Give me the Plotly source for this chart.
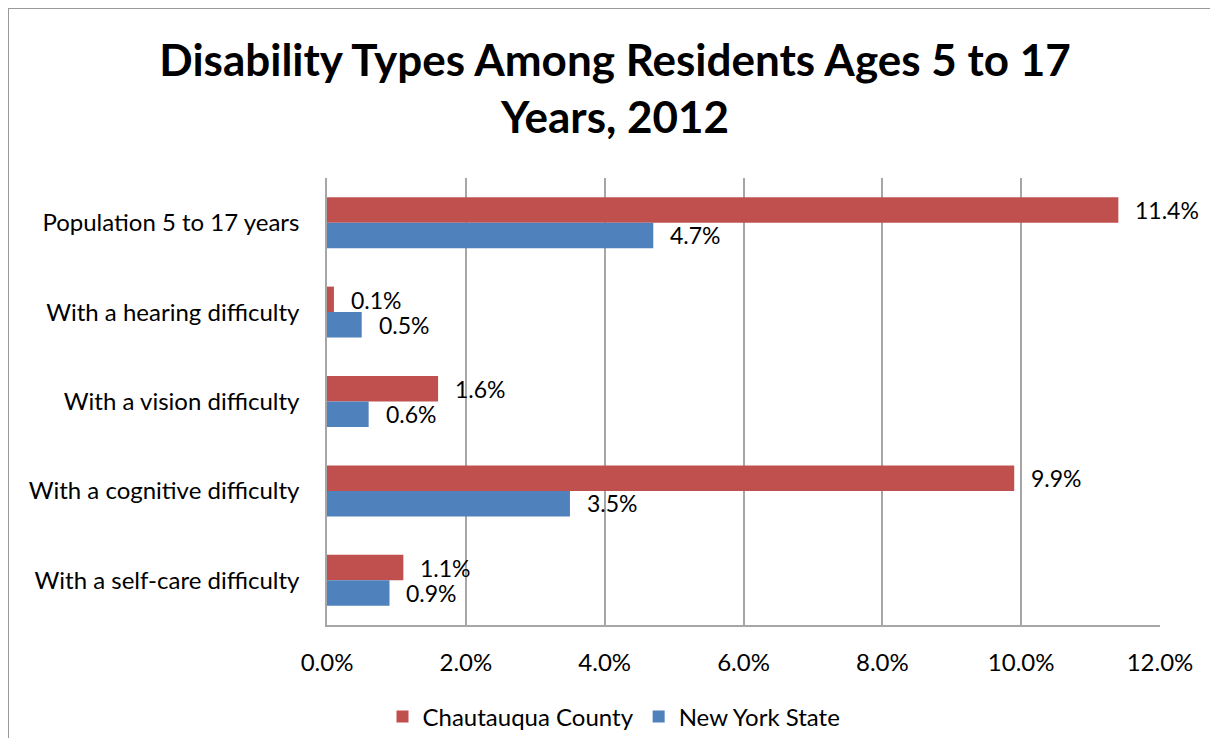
import plotly.graph_objects as go

categories = ["Population 5 to 17 years", "With a hearing difficulty", "With a vision difficulty",
              "With a cognitive difficulty", "With a self-care difficulty"]
chautauqua = [0.114, 0.001, 0.016, 0.099, 0.011]
new_york = [0.047, 0.005, 0.006, 0.035, 0.009]
series_names = ["Chautauqua County", "New York State"]
x_ticks = [0, 0.02, 0.04, 0.06, 0.08, 0.10, 0.12]

RED = "#C0504D"
BLUE = "#4F81BD"
FONT = "Lato"

# page has an 8px body margin on every side; figure sized so the page does not overflow
OFF = 8
W, H = 1218 - 2 * OFF, 754 - 2 * OFF - 8
L, T = 327 - OFF, 178 - OFF
R = W - (1160 - OFF)
B = H - (625 - OFF)

fig = go.Figure()
fig.add_trace(go.Bar(y=categories, x=chautauqua, orientation="h", name=series_names[0],
                     marker=dict(color=RED, line=dict(width=0))))
fig.add_trace(go.Bar(y=categories, x=new_york, orientation="h", name=series_names[1],
                     marker=dict(color=BLUE, line=dict(width=0))))

annotations = []
for vals, off in ((chautauqua, -0.14), (new_york, 0.14)):
    for i, v in enumerate(vals):
        annotations.append(dict(x=v, y=i + off, xref="x", yref="y", text=f"{v*100:.1f}%",
                                showarrow=False, xanchor="left", yanchor="middle", xshift=15,
                                font=dict(family=FONT, size=23, color="#000")))

pw, ph = W - L - R, H - T - B
def px_x(x): return (x - OFF - L) / pw
def px_y(y): return (H - B - (y - OFF)) / ph

border = dict(color="#999999", width=2)
fig.update_layout(
    width=W, height=H,
    margin=dict(l=L, r=R, t=T, b=B),
    paper_bgcolor="white", plot_bgcolor="white",
    barmode="group", bargap=0.43, bargroupgap=0,
    title=dict(text="<b>Disability Types Among Residents Ages 5 to 17<br>Years, 2012</b>",
               x=(615 - OFF) / W, xanchor="center", y=1 - (76 - OFF) / H, yanchor="middle",
               font=dict(family=FONT, size=44, color="#000")),
    xaxis=dict(range=[0, 0.12], tickvals=x_ticks, tickformat=".1%",
               showgrid=True, gridcolor="#A6A6A6", gridwidth=1.5,
               showline=True, linecolor="#A6A6A6", linewidth=1.5,
               zeroline=False, ticks="", ticklabelstandoff=15,
               tickfont=dict(family=FONT, size=24, color="#000")),
    yaxis=dict(autorange="reversed", showline=True, linecolor="#A6A6A6", linewidth=1.5,
               showgrid=False, ticks="", ticklabelstandoff=21,
               tickfont=dict(family=FONT, size=24, color="#000")),
    legend=dict(orientation="h", xref="container", yref="container",
                x=(614 - OFF) / W, xanchor="center", y=1 - (717 - OFF) / H, yanchor="middle",
                font=dict(family=FONT, size=24, color="#000"), itemwidth=30,
                traceorder="normal"),
    annotations=annotations,
    shapes=[
        dict(type="line", xref="paper", yref="paper",
             x0=px_x(8), x1=px_x(8), y0=px_y(8), y1=px_y(754), line=border),
        dict(type="line", xref="paper", yref="paper",
             x0=px_x(8), x1=px_x(1218), y0=px_y(8), y1=px_y(8), line=border),
    ],
)

fig.write_html("out.html")
